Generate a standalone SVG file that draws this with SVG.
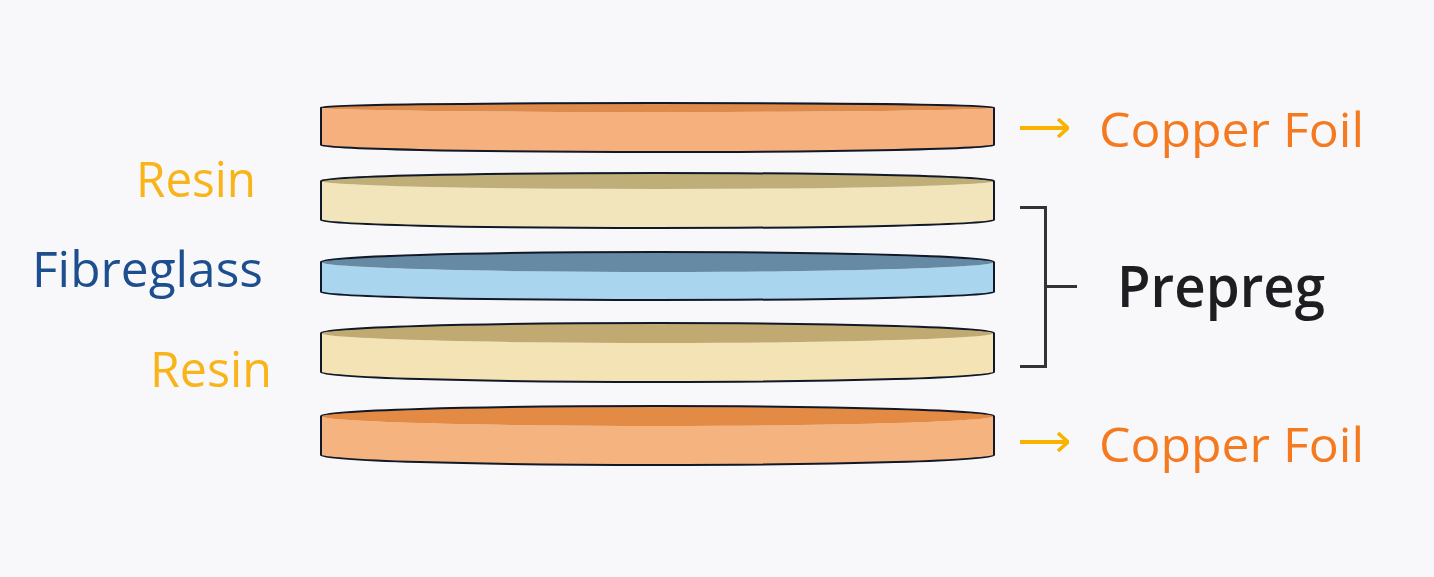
<svg xmlns="http://www.w3.org/2000/svg" width="1434" height="577" viewBox="0 0 1434 577">
<style>
.outline{fill:none;stroke:#111827;stroke-width:2;stroke-linejoin:round}
.lbl{font-family:"Open Sans","Noto Sans",sans-serif}
.cu{fill:#F57A1F}
.rs{fill:#F9B41A}
.arrow{stroke:#F8B300;stroke-width:4;fill:none}
.br{stroke:#333;stroke-width:3;fill:none}
</style>
<defs>
<marker id="ah" viewBox="0 0 12 20" refX="11" refY="10" markerWidth="12" markerHeight="20" orient="auto" markerUnits="userSpaceOnUse">
<path d="M1,1 L11,10 L1,19" fill="none" stroke="#F8B300" stroke-width="3.5" stroke-linejoin="miter"/>
</marker>
</defs>
<rect width="1434" height="577" fill="#F8F8FA"/>
<g id="copper-top">
<path d="M321,107.5 L321,145 A336.5,7 0 0 0 994,145 L994,107.5 A336.5,4.5 0 0 1 321,107.5 Z" fill="#F5B07D"/>
<ellipse cx="657.5" cy="107.5" rx="336.5" ry="4.5" fill="#DE8A4A"/>
<path class="outline" d="M321,107.5 A336.5,4.5 0 0 1 994,107.5 L994,145 A336.5,7 0 0 1 321,145 Z"/>
</g>
<g id="resin-top">
<path d="M321,181 L321,220 A336.5,8 0 0 0 994,220 L994,181 A336.5,8 0 0 1 321,181 Z" fill="#F3E5BB"/>
<ellipse cx="657.5" cy="181" rx="336.5" ry="8" fill="#BFAE78"/>
<path class="outline" d="M321,181 A336.5,8 0 0 1 994,181 L994,220 A336.5,8 0 0 1 321,220 Z"/>
</g>
<g id="fibreglass">
<path d="M321,262 L321,292 A336.5,8 0 0 0 994,292 L994,262 A336.5,10 0 0 1 321,262 Z" fill="#A9D5EF"/>
<ellipse cx="657.5" cy="262" rx="336.5" ry="10" fill="#668AA3"/>
<path class="outline" d="M321,262 A336.5,10 0 0 1 994,262 L994,292 A336.5,8 0 0 1 321,292 Z"/>
</g>
<g id="resin-bottom">
<path d="M321,333 L321,372 A336.5,10 0 0 0 994,372 L994,333 A336.5,10 0 0 1 321,333 Z" fill="#F3E3B5"/>
<ellipse cx="657.5" cy="333" rx="336.5" ry="10" fill="#C1AA72"/>
<path class="outline" d="M321,333 A336.5,10 0 0 1 994,333 L994,372 A336.5,10 0 0 1 321,372 Z"/>
</g>
<g id="copper-bottom">
<path d="M321,416 L321,455 A336.5,10 0 0 0 994,455 L994,416 A336.5,10 0 0 1 321,416 Z" fill="#F4B37F"/>
<ellipse cx="657.5" cy="416" rx="336.5" ry="10" fill="#E38B45"/>
<path class="outline" d="M321,416 A336.5,10 0 0 1 994,416 L994,455 A336.5,10 0 0 1 321,455 Z"/>
</g>
<g id="connectors">
<line class="arrow" x1="1020" y1="128" x2="1068" y2="128" marker-end="url(#ah)"/>
<line class="arrow" x1="1020" y1="442" x2="1068" y2="442" marker-end="url(#ah)"/>
<path class="br" d="M1020,207.5 H1045.5 V366.5 H1020 M1045.5,286.5 H1077"/>
</g>
<g id="labels">
<text class="lbl cu" x="1099" y="147" font-size="48" textLength="265" lengthAdjust="spacingAndGlyphs">Copper Foil</text>
<text class="lbl cu" x="1099" y="462" font-size="48" textLength="265" lengthAdjust="spacingAndGlyphs">Copper Foil</text>
<text class="lbl rs" x="136" y="197" font-size="49" textLength="120" lengthAdjust="spacingAndGlyphs">Resin</text>
<text class="lbl rs" x="150" y="387" font-size="49" textLength="122" lengthAdjust="spacingAndGlyphs">Resin</text>
<text class="lbl" x="32" y="287" font-size="49" fill="#1D4F8F" textLength="231" lengthAdjust="spacingAndGlyphs">Fibreglass</text>
<text class="lbl" x="1117" y="307" font-size="57" font-weight="600" fill="#1E1E22" textLength="208" lengthAdjust="spacingAndGlyphs">Prepreg</text>
</g>
</svg>
